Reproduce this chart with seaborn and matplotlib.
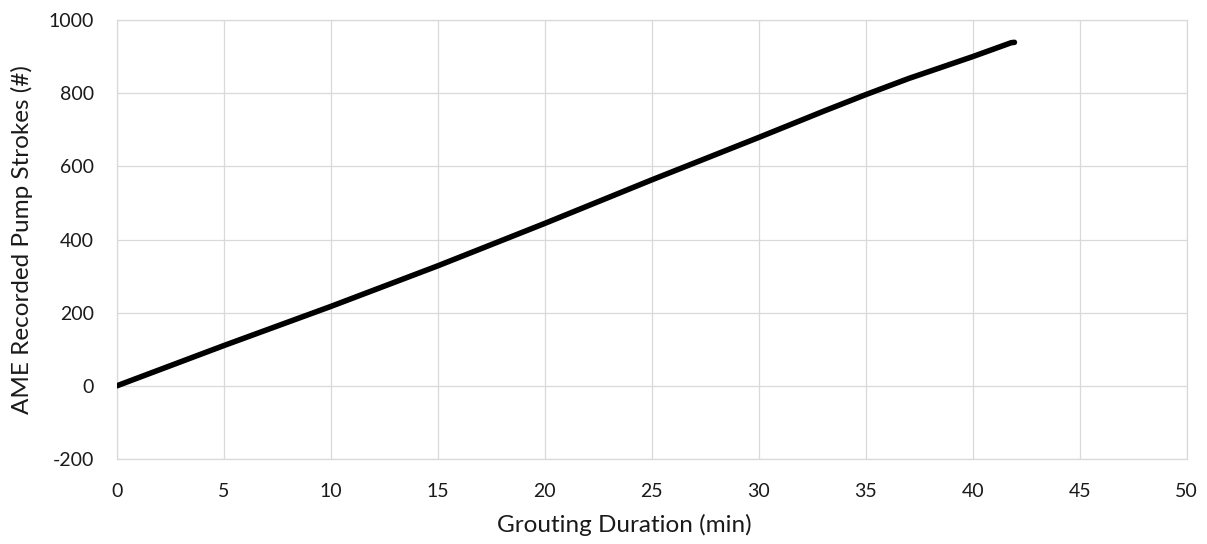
import pandas as pd
import matplotlib.pyplot as plt
import seaborn as sns

# values
duration_min = [0, 5, 10, 15, 20, 25, 30, 33, 35, 37, 40, 41.8, 41.95]
pump_strokes = [0, 110, 217, 328, 444, 563, 679, 750, 796, 840, 900, 938, 939]
x_ticks = list(range(0, 51, 5))
y_ticks = list(range(-200, 1001, 200))

df = pd.DataFrame({"duration": duration_min, "strokes": pump_strokes})

sns.set_theme(style="white")
plt.rcParams['font.family'] = ['Lato', 'DejaVu Sans']

fig = plt.figure(figsize=(12.07, 5.44), dpi=100)
ax = fig.add_axes([0.0967, 0.1562, 0.8865, 0.807])

sns.lineplot(data=df, x="duration", y="strokes", color="black", linewidth=4,
             sort=False, ax=ax, solid_capstyle="round", solid_joinstyle="round", zorder=3)

ax.set_xlim(0, 50)
ax.set_ylim(-200, 1000)
ax.set_xticks(x_ticks)
ax.set_yticks(y_ticks)
ax.set_xticklabels([str(v) for v in x_ticks])
ax.set_yticklabels([str(v) for v in y_ticks])
ax.grid(True, color="#d9d9d9", linewidth=0.9)
for s in ax.spines.values():
    s.set_color("#d9d9d9")
    s.set_linewidth(0.9)
ax.tick_params(axis="both", length=0, labelsize=14, colors="#1a1a1a")
ax.tick_params(axis="x", pad=17)
ax.tick_params(axis="y", pad=16.5)

ax.set_xlabel("Grouting Duration (min)", fontsize=17.5, color="#1a1a1a")
ax.set_ylabel("AME Recorded Pump Strokes (#)", fontsize=17.5, color="#1a1a1a")
ax.xaxis.set_label_coords(0.474, -0.150)
ax.xaxis.label.set_va("center")
ax.yaxis.set_label_coords(-0.089, 0.5)
ax.yaxis.label.set_va("center")

fig.savefig("out.png", dpi=100)
